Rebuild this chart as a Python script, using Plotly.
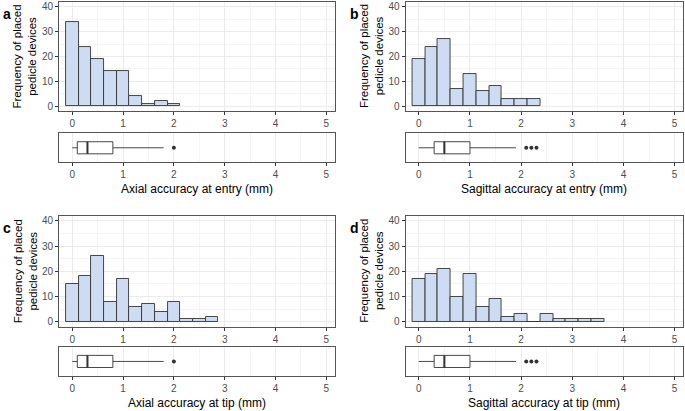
import plotly.graph_objects as go

# histogram bins (mm, bin width 0.25) and counts
bin_width = 0.25
a_bins = [0, 0.25, 0.5, 0.75, 1.0, 1.25, 1.5, 1.75, 2.0]
a_counts = [34, 24, 19, 14, 14, 4, 1, 2, 1]
b_bins = [0, 0.25, 0.5, 0.75, 1.0, 1.25, 1.5, 1.75, 2.0, 2.25]
b_counts = [19, 24, 27, 7, 13, 6, 8, 3, 3, 3]
c_bins = [0, 0.25, 0.5, 0.75, 1.0, 1.25, 1.5, 1.75, 2.0, 2.25, 2.5, 2.75]
c_counts = [15, 18, 26, 8, 17, 6, 7, 4, 8, 1, 1, 2]
d_bins = [0, 0.25, 0.5, 0.75, 1.0, 1.25, 1.5, 1.75, 2.0, 2.25, 2.5, 2.75, 3.0, 3.25, 3.5]
d_counts = [17, 19, 21, 10, 19, 6, 9, 2, 3, 0, 3, 1, 1, 1, 1]

# boxplot summaries: [lower whisker, q1, median, q3, upper whisker]
a_box = [0.0, 0.1, 0.3, 0.8, 1.8]
b_box = [0.0, 0.3, 0.5, 1.0, 1.9]
c_box = [0.0, 0.1, 0.3, 0.8, 1.8]
d_box = [0.0, 0.3, 0.5, 1.0, 1.9]
a_out = [2.0]
b_out = [2.1, 2.2, 2.3]
c_out = [2.0]
d_out = [2.1, 2.2, 2.3]

panel_labels = ["a", "b", "c", "d"]
x_titles = ["Axial accuracy at entry (mm)", "Sagittal accuracy at entry (mm)",
            "Axial accuracy at tip (mm)", "Sagittal accuracy at tip (mm)"]
y_title = "Frequency of placed<br>pedicle devices"
x_ticks = [0, 1, 2, 3, 4, 5]
y_ticks = [0, 10, 20, 30, 40]

W, H = 685, 411
FONT = "Liberation Sans, Arial, sans-serif"
FILL = "#CDDCF2"
EDGE = "#333333"
BORDER = "#555555"
TICKC = "#4D4D4D"

# panel geometry in pixels: (left, right, hist top, hist bottom, box top, box bottom)
panels = [
    (59, 335, 1, 110.7, 133, 162),
    (405.5, 683.3, 1, 110.7, 133, 162),
    (59, 335, 216, 327.3, 347.7, 376.7),
    (405.5, 683.3, 216, 327.3, 347.7, 376.7),
]

hists = [(a_bins, a_counts), (b_bins, b_counts), (c_bins, c_counts), (d_bins, d_counts)]
boxes = [(a_box, a_out), (b_box, b_out), (c_box, c_out), (d_box, d_out)]

fig = go.Figure()
layout = {}
annotations = []
xr = [-0.26, 5.17]

for i, (l, r, ht, hb, bt, bb) in enumerate(panels):
    hx = 2 * i + 1
    bx = 2 * i + 2
    xd = [l / W, r / W]

    bins, counts = hists[i]
    fig.add_trace(go.Bar(
        x=bins, y=counts, width=bin_width,
        marker=dict(color=FILL, line=dict(color=EDGE, width=0.9)),
        xaxis=f"x{hx}", yaxis=f"y{hx}", showlegend=False,
    ))

    stats, outl = boxes[i]
    lo, q1, med, q3, hi = stats
    fig.add_trace(go.Box(
        y=[0], q1=[q1], median=[med], q3=[q3], lowerfence=[lo], upperfence=[hi],
        orientation="h", width=0.42, whiskerwidth=0,
        fillcolor="white", line=dict(color=EDGE, width=0.9),
        xaxis=f"x{bx}", yaxis=f"y{bx}", showlegend=False, boxpoints=False,
    ))
    # thicker median line like ggplot
    fig.add_trace(go.Scatter(
        x=[med, med], y=[-0.21, 0.21], mode="lines",
        line=dict(color=EDGE, width=2),
        xaxis=f"x{bx}", yaxis=f"y{bx}", showlegend=False, hoverinfo="skip",
    ))
    fig.add_trace(go.Scatter(
        x=outl, y=[0] * len(outl), mode="markers",
        marker=dict(color=EDGE, size=4),
        xaxis=f"x{bx}", yaxis=f"y{bx}", showlegend=False,
    ))

    common_x = dict(
        domain=xd, range=xr, tickvals=x_ticks, ticks="outside", ticklen=3,
        tickcolor=EDGE, tickwidth=0.8, tickfont=dict(size=10, color=TICKC),
        showgrid=True, gridcolor="#EBEBEB", gridwidth=0.8,
        minor=dict(dtick=0.5, tick0=0, showgrid=True, gridcolor="#F4F4F4", gridwidth=0.5),
        showline=True, mirror=True, linecolor=BORDER, linewidth=1, zeroline=False,
    )
    layout[f"xaxis{hx}"] = dict(common_x, anchor=f"y{hx}")
    layout[f"xaxis{bx}"] = dict(common_x, anchor=f"y{bx}")
    layout[f"yaxis{hx}"] = dict(
        domain=[1 - hb / H, 1 - ht / H], range=[-2, 42], tickvals=y_ticks,
        ticks="outside", ticklen=3, tickcolor=EDGE, tickwidth=0.8,
        tickfont=dict(size=10, color=TICKC),
        showgrid=True, gridcolor="#EBEBEB", gridwidth=0.8,
        minor=dict(dtick=5, tick0=0, showgrid=True, gridcolor="#F4F4F4", gridwidth=0.5),
        showline=True, mirror=True, linecolor=BORDER, linewidth=1, zeroline=False,
        anchor=f"x{hx}",
    )
    layout[f"yaxis{bx}"] = dict(
        domain=[1 - bb / H, 1 - bt / H], range=[-0.5, 0.5], showticklabels=False,
        showgrid=False, zeroline=False, showline=True, mirror=True,
        linecolor=BORDER, linewidth=1, anchor=f"x{bx}",
    )

    cx = (l + r) / 2
    annotations.append(dict(
        x=cx / W, y=1 - (bb + 27) / H, xref="paper", yref="paper",
        text=x_titles[i], showarrow=False, font=dict(size=12, color="black"),
        xanchor="center", yanchor="middle",
    ))
    annotations.append(dict(
        x=(l - 34) / W, y=1 - ((ht + hb) / 2) / H, xref="paper", yref="paper",
        text=y_title, showarrow=False, textangle=-90,
        font=dict(size=11.5, color="black"), xanchor="center", yanchor="middle",
    ))
    annotations.append(dict(
        x=(l - 58) / W, y=1 - (ht + 12) / H, xref="paper", yref="paper",
        text=f"<b>{panel_labels[i]}</b>", showarrow=False,
        font=dict(size=14, color="black"), xanchor="left", yanchor="middle",
    ))

fig.update_layout(
    width=W, height=H, margin=dict(l=0, r=0, t=0, b=0),
    paper_bgcolor="white", plot_bgcolor="white",
    font=dict(family=FONT), bargap=0, annotations=annotations,
    **layout,
)

# drop the page's default body margin so the figure sits at the window's corner
fig.write_html("out.html", config={"displayModeBar": False},
               post_script="document.body.style.margin='0';")
